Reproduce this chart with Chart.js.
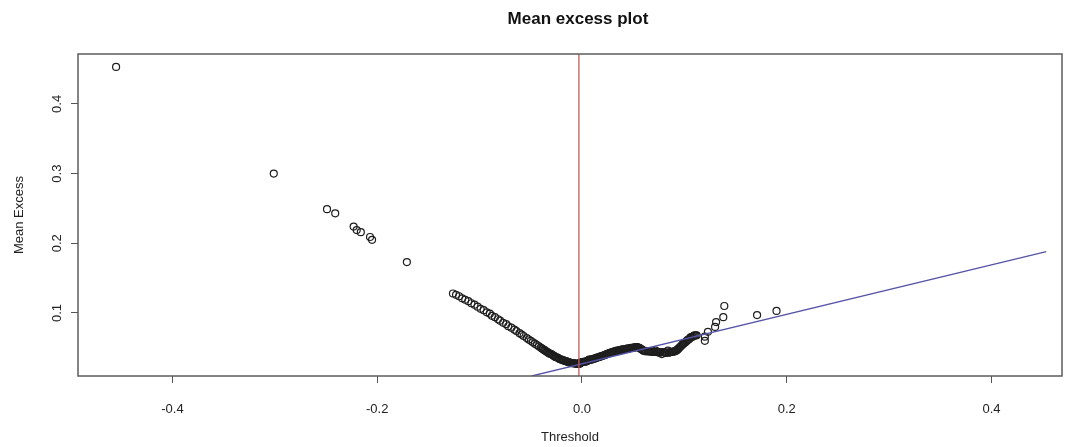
<!DOCTYPE html>
<html>
<head>
<meta charset="utf-8">
<script src="https://cdn.jsdelivr.net/npm/chart.js@4/dist/chart.umd.min.js"></script>
<style>
  html, body { margin: 0; padding: 0; background: #fff; }
  #wrap { width: 1076px; height: 447px; position: relative; }
</style>
</head>
<body>
<div id="wrap"><canvas id="meChart"></canvas></div>
<script>
// Mean excess plot

// axis ticks
const xTicks = [-0.4, -0.2, 0.0, 0.2, 0.4];
const yTicks = [0.1, 0.2, 0.3, 0.4];

// sparse upper tail (low thresholds)
const tailX = [-0.455, -0.301, -0.249, -0.241, -0.223, -0.220, -0.216, -0.207, -0.205, -0.171];
const tailY = [0.453, 0.300, 0.249, 0.243, 0.224, 0.219, 0.216, 0.209, 0.205, 0.173];

// dense descending band
const leftBandX = [-0.126, -0.123, -0.120, -0.117, -0.114, -0.111, -0.108, -0.105, -0.102, -0.099,
  -0.096, -0.093, -0.090, -0.088, -0.085, -0.082, -0.080, -0.077, -0.074, -0.072,
  -0.069, -0.066, -0.064, -0.061, -0.059, -0.057, -0.054, -0.052, -0.050, -0.048,
  -0.046, -0.044, -0.042, -0.040, -0.038, -0.036, -0.034, -0.032, -0.030, -0.028,
  -0.026, -0.024, -0.022, -0.020, -0.018, -0.016, -0.014, -0.012, -0.010, -0.008,
  -0.006, -0.004, -0.002];
const leftBandY = [0.128, 0.126, 0.124, 0.121, 0.119, 0.117, 0.114, 0.112, 0.109, 0.106,
  0.104, 0.101, 0.099, 0.096, 0.094, 0.091, 0.089, 0.086, 0.084, 0.081,
  0.079, 0.076, 0.074, 0.071, 0.069, 0.067, 0.064, 0.062, 0.060, 0.058,
  0.056, 0.054, 0.052, 0.050, 0.048, 0.046, 0.044, 0.042, 0.041, 0.039,
  0.037, 0.036, 0.034, 0.033, 0.032, 0.031, 0.030, 0.029, 0.028, 0.028,
  0.027, 0.027, 0.027];

// extra thresholds packed near the bottom of the descending band
const leftFillX = [-0.039, -0.037, -0.035, -0.033, -0.031, -0.029, -0.027, -0.025, -0.023, -0.021,
  -0.019, -0.017, -0.015, -0.013, -0.011, -0.009, -0.007, -0.005, -0.003];
const leftFillY = [0.049, 0.047, 0.045, 0.043, 0.0415, 0.040, 0.038, 0.0365, 0.035, 0.0335,
  0.0325, 0.0315, 0.0305, 0.0295, 0.0285, 0.028, 0.0275, 0.027, 0.027];

// dense rising band
const rightBandX = [-0.003, -0.001, 0.001, 0.003, 0.005, 0.007, 0.009, 0.011, 0.013, 0.015,
  0.017, 0.019, 0.021, 0.023, 0.024, 0.026, 0.028, 0.030, 0.032, 0.034,
  0.036, 0.038, 0.040, 0.042, 0.044, 0.046, 0.048, 0.050, 0.052, 0.054,
  0.056, 0.058, 0.060, 0.062, 0.065, 0.067, 0.070, 0.073, 0.076, 0.079,
  0.082, 0.085, 0.088, 0.091, 0.093, 0.095, 0.097, 0.099, 0.101, 0.103,
  0.105, 0.106, 0.108, 0.110, 0.112];
const rightBandY = [0.028, 0.029, 0.030, 0.030, 0.031, 0.033, 0.033, 0.034, 0.035, 0.036,
  0.037, 0.038, 0.039, 0.040, 0.041, 0.042, 0.043, 0.044, 0.045, 0.046,
  0.046, 0.047, 0.048, 0.048, 0.049, 0.049, 0.050, 0.050, 0.051, 0.051,
  0.050, 0.048, 0.046, 0.045, 0.045, 0.045, 0.044, 0.044, 0.043, 0.044,
  0.043, 0.043, 0.044, 0.045, 0.047, 0.050, 0.053, 0.056, 0.058, 0.061,
  0.063, 0.065, 0.066, 0.068, 0.068];

// extra thresholds packed along the rising band
const rightFillX = [0.000, 0.002, 0.004, 0.006, 0.008, 0.010, 0.012, 0.014, 0.016, 0.018,
  0.020, 0.022, 0.025, 0.027, 0.029, 0.031, 0.033, 0.035, 0.037, 0.039,
  0.041, 0.043, 0.045, 0.047, 0.049, 0.051, 0.053, 0.055, 0.057, 0.059,
  0.061, 0.064, 0.066, 0.068, 0.069, 0.071, 0.072, 0.074, 0.075, 0.077,
  0.078, 0.080, 0.081, 0.083, 0.084, 0.086, 0.087, 0.089, 0.090, 0.092,
  0.094, 0.096, 0.098, 0.100, 0.102, 0.104, 0.107, 0.109, 0.111];
const rightFillY = [0.0295, 0.030, 0.0305, 0.032, 0.033, 0.0335, 0.0345, 0.0355, 0.0365, 0.0375,
  0.0385, 0.0395, 0.0415, 0.0425, 0.0435, 0.0445, 0.0455, 0.046, 0.0465, 0.0475,
  0.048, 0.0485, 0.049, 0.0495, 0.050, 0.0505, 0.051, 0.0505, 0.049, 0.047,
  0.0455, 0.045, 0.045, 0.0445, 0.044, 0.044, 0.046, 0.0435, 0.0435, 0.0435,
  0.041, 0.0435, 0.043, 0.043, 0.046, 0.0435, 0.044, 0.0445, 0.045, 0.046,
  0.0485, 0.0515, 0.0545, 0.057, 0.0595, 0.062, 0.0655, 0.067, 0.068];

// scattered points at the high end
const outerX = [0.120, 0.120, 0.123, 0.130, 0.131, 0.138, 0.139, 0.171, 0.190];
const outerY = [0.060, 0.066, 0.073, 0.080, 0.087, 0.094, 0.110, 0.097, 0.103];

// fitted line (blue) and chosen threshold (red)
const fitX = [-0.049, 0.4534];
const fitY = [0.0096, 0.188];
const thresholdX = -0.003;
const xRange = [-0.4922, 0.4688];
const yRange = [0.0096, 0.4716];

function zip(xs, ys) {
    const n = Math.min(xs.length, ys.length);
    const out = [];
    for (let i = 0; i < n; i++) out.push({ x: xs[i], y: ys[i] });
    return out;
}

const allPoints = [].concat(
    zip(tailX, tailY),
    zip(leftBandX, leftBandY),
    zip(leftFillX, leftFillY),
    zip(rightBandX, rightBandY),
    zip(rightFillX, rightFillY),
    zip(outerX, outerY)
);

const FONT = "'Liberation Sans', Arial, sans-serif";

// box around plot + main title
const framePlugin = {
    id: 'frame',
    afterDraw(chart) {
        const { ctx, chartArea } = chart;
        ctx.save();
        ctx.strokeStyle = '#5c5c5c';
        ctx.lineWidth = 1.5;
        ctx.strokeRect(chartArea.left, chartArea.top, chartArea.right - chartArea.left, chartArea.bottom - chartArea.top);
        ctx.fillStyle = '#111';
        ctx.font = 'bold 17px ' + FONT;
        ctx.textAlign = 'center';
        ctx.textBaseline = 'middle';
        ctx.fillText('Mean excess plot', 578, 19);
        ctx.restore();
    }
};

new Chart(document.getElementById('meChart'), {
    type: 'scatter',
    data: {
        datasets: [
            {
                label: 'threshold',
                type: 'line',
                data: [{ x: thresholdX, y: yRange[0] - 0.05 }, { x: thresholdX, y: yRange[1] + 0.05 }],
                borderColor: '#c45a5a',
                borderWidth: 1.3,
                pointRadius: 0,
                showLine: true,
                fill: false
            },
            {
                label: 'fit',
                type: 'line',
                data: zip(fitX, fitY),
                borderColor: '#5454a8',
                borderWidth: 1.3,
                pointRadius: 0,
                showLine: true,
                fill: false
            },
            {
                label: 'mean excess',
                data: allPoints,
                pointStyle: 'circle',
                pointRadius: 3.5,
                pointBorderWidth: 1.2,
                borderColor: '#1e1e1e',
                backgroundColor: 'rgba(0,0,0,0)',
                pointHoverRadius: 3.5
            }
        ]
    },
    options: {
        responsive: true,
        maintainAspectRatio: false,
        animation: false,
        events: [],
        layout: { padding: { left: 0, right: 14, top: 54, bottom: 0 } },
        plugins: {
            legend: { display: false },
            tooltip: { enabled: false }
        },
        scales: {
            x: {
                type: 'linear',
                min: xRange[0],
                max: xRange[1],
                afterBuildTicks: scale => { scale.ticks = xTicks.map(v => ({ value: v })); },
                afterFit: scale => { scale.height = 71; },
                grid: { display: true, drawOnChartArea: false, drawTicks: true, tickLength: 7, color: '#555', lineWidth: 1 },
                border: { display: false },
                ticks: {
                    padding: 19,
                    color: '#222',
                    font: { family: FONT, size: 13 },
                    maxRotation: 0,
                    callback: v => v.toFixed(1)
                },
                title: {
                    display: true,
                    text: 'Threshold',
                    color: '#222',
                    font: { family: FONT, size: 13 },
                    padding: { top: 0, bottom: 2 }
                }
            },
            y: {
                type: 'linear',
                min: yRange[0],
                max: yRange[1],
                afterBuildTicks: scale => { scale.ticks = yTicks.map(v => ({ value: v })); },
                afterFit: scale => { scale.width = 78; },
                grid: { display: true, drawOnChartArea: false, drawTicks: true, tickLength: 7, color: '#555', lineWidth: 1 },
                border: { display: false },
                ticks: {
                    padding: 5,
                    color: '#222',
                    font: { family: FONT, size: 13 },
                    minRotation: 90,
                    maxRotation: 90,
                    crossAlign: 'center',
                    callback: v => v.toFixed(1)
                },
                title: {
                    display: true,
                    text: 'Mean Excess',
                    color: '#222',
                    font: { family: FONT, size: 13 },
                    padding: { top: 12, bottom: 0 }
                }
            }
        }
    },
    plugins: [framePlugin]
});
</script>
</body>
</html>
